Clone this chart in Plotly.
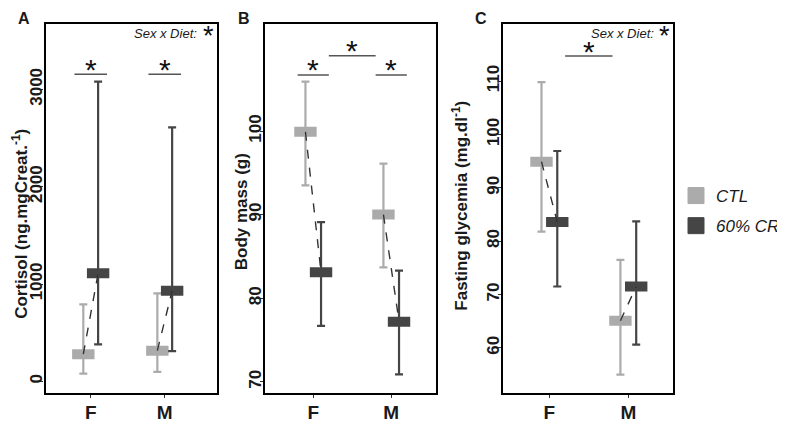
import plotly.graph_objects as go

# ---------------- data ----------------
sexes = ["F", "M"]
diet_labels = ["CTL", "60% CR"]

cort_ctl_mean = [279, 315]
cort_ctl_low = [78, 96]
cort_ctl_high = [791, 904]
cort_cr_mean = [1110, 931]
cort_cr_low = [380, 311]
cort_cr_high = [3079, 2610]

mass_ctl_mean = [99.9, 90.0]
mass_ctl_low = [93.5, 83.7]
mass_ctl_high = [105.9, 96.1]
mass_cr_mean = [83.1, 77.2]
mass_cr_low = [76.7, 70.9]
mass_cr_high = [89.1, 83.3]

gly_ctl_mean = [94.9, 65.1]
gly_ctl_low = [81.8, 55.0]
gly_ctl_high = [109.8, 76.5]
gly_cr_mean = [83.6, 71.5]
gly_cr_low = [71.5, 60.6]
gly_cr_high = [96.9, 83.7]

cort_ticks = [0, 1000, 2000, 3000]
mass_ticks = [70, 80, 90, 100]
gly_ticks = [60, 70, 80, 90, 100, 110]

# ---------------- geometry ----------------
# the page body has an 8px default margin, so the figure is drawn 8px in
W, H = 785, 422
OFF = 8
FW, FH = W - OFF, H - OFF


def px2x(X):
    return (X - OFF) / FW


def px2y(Y):
    return 1 - (Y - OFF) / FH


FONT = "Liberation Sans"
CTL_COL = "#ababab"
CR_COL = "#454545"
DODGE = 0.1

panels = [
    dict(ctl=(cort_ctl_mean, cort_ctl_low, cort_ctl_high),
         cr=(cort_cr_mean, cort_cr_low, cort_cr_high),
         ticks=cort_ticks, yrange=[-117, 3672], xrange=[0.39, 2.70],
         dom=[46, 219]),
    dict(ctl=(mass_ctl_mean, mass_ctl_low, mass_ctl_high),
         cr=(mass_cr_mean, mass_cr_low, mass_cr_high),
         ticks=mass_ticks, yrange=[68.7, 112.8], xrange=[0.385, 2.57],
         dom=[268.3, 440.7]),
    dict(ctl=(gly_ctl_mean, gly_ctl_low, gly_ctl_high),
         cr=(gly_cr_mean, gly_cr_low, gly_cr_high),
         ticks=gly_ticks, yrange=[51.6, 120.7], xrange=[0.415, 2.56],
         dom=[509, 680.3]),
]

ydom = [px2y(392.7), px2y(24)]

fig = go.Figure()
layout = dict(
    width=FW, height=FH, margin=dict(l=0, r=0, t=0, b=0),
    paper_bgcolor="white", plot_bgcolor="white",
    font=dict(family=FONT, color="#1a1a1a"),
)

for k, p in enumerate(panels):
    n = "" if k == 0 else str(k + 1)
    xa, ya = "x" + n, "y" + n
    base = [i + 1 for i in range(len(sexes))]
    for (mean, low, high), off, col in ((p["ctl"], -DODGE, CTL_COL), (p["cr"], DODGE, CR_COL)):
        xs = [b + off for b in base]
        fig.add_trace(go.Scatter(
            x=xs, y=mean, mode="markers", xaxis=xa, yaxis=ya, showlegend=False,
            marker=dict(symbol="line-ew", size=16, color=col,
                        line=dict(width=10, color=col)),
            error_y=dict(type="data", symmetric=False,
                         array=[h - m for h, m in zip(high, mean)],
                         arrayminus=[m - l for m, l in zip(mean, low)],
                         color=col, thickness=2.2, width=4),
            hoverinfo="skip",
        ))
    # dashed connectors CTL -> CR within sex
    for i, b in enumerate(base):
        fig.add_trace(go.Scatter(
            x=[b - DODGE, b + DODGE], y=[p["ctl"][0][i], p["cr"][0][i]],
            mode="lines", xaxis=xa, yaxis=ya, showlegend=False,
            line=dict(color="#333333", width=1.4, dash="dash"), hoverinfo="skip",
        ))
    layout["xaxis" + n] = dict(
        domain=[px2x(p["dom"][0]), px2x(p["dom"][1])], range=p["xrange"], anchor=ya,
        tickvals=base, ticktext=sexes, showgrid=False, zeroline=False,
        showline=True, mirror=True, linecolor="black", linewidth=2.4,
        ticks="outside", ticklen=3, tickwidth=1.2, tickcolor="#333",
        ticklabelstandoff=-2,
        tickfont=dict(family=FONT, size=19, weight="bold", color="#1a1a1a"),
    )
    layout["yaxis" + n] = dict(
        domain=ydom, range=p["yrange"], anchor=xa,
        tickvals=p["ticks"], tickangle=-90, showgrid=False, zeroline=False,
        showline=True, mirror=True, linecolor="black", linewidth=2.4,
        ticks="outside", ticklen=3, tickwidth=1.2, tickcolor="#333",
        ticklabelstandoff=-8,
        tickfont=dict(family=FONT, size=17, weight="bold", color="#1a1a1a"),
    )

# legend-only traces
for lab, col in zip(diet_labels, (CTL_COL, CR_COL)):
    fig.add_trace(go.Scatter(
        x=[None], y=[None], mode="markers", name=lab, legendgroup=lab,
        marker=dict(symbol="square", size=16, color=col,
                    line=dict(width=1, color=col)),
    ))

layout["legend"] = dict(
    x=px2x(684), y=px2y(178), xanchor="left", yanchor="top",
    font=dict(family=FONT, size=17, style="italic", color="#1a1a1a"),
    bgcolor="rgba(0,0,0,0)", tracegroupgap=5, traceorder="grouped",
    itemsizing="trace",
)

# significance brackets
bracket_col = "#555555"
shapes = []
annots = []


def bracket(xref, yref, x0, x1, y):
    shapes.append(dict(type="line", xref=xref, yref=yref, x0=x0, x1=x1, y0=y, y1=y,
                       line=dict(color=bracket_col, width=1.5)))
    annots.append(dict(xref=xref, yref=yref, x=(x0 + x1) / 2, y=y, text="*",
                       showarrow=False, yanchor="middle", yshift=5,
                       font=dict(family=FONT, size=30, color="#111")))


bracket("x", "y", 0.78, 1.22, 3155)
bracket("x", "y", 1.78, 2.22, 3155)
bracket("x2", "y2", 0.8, 1.2, 106.7)
bracket("x2", "y2", 1.8, 2.2, 106.7)
bracket("x2", "y2", 1.2, 1.8, 109.0)
bracket("x3", "y3", 1.2, 1.8, 114.7)

# Sex x Diet labels
for xt, xs in ((201, 203), (664, 665)):
    annots.append(dict(xref="paper", yref="paper", x=px2x(xt), y=px2y(33),
                       text="<i>Sex x Diet:</i>", showarrow=False,
                       xanchor="right", yanchor="middle",
                       font=dict(family=FONT, size=13, color="#1a1a1a")))
    annots.append(dict(xref="paper", yref="paper", x=px2x(xs), y=px2y(33),
                       text="*", showarrow=False, xanchor="left", yanchor="middle",
                       yshift=-3, font=dict(family=FONT, size=27, color="#111")))

# panel letters
for letter, px in (("A", 24), ("B", 247), ("C", 487)):
    annots.append(dict(xref="paper", yref="paper", x=px2x(px), y=px2y(8),
                       text=letter, showarrow=False, xanchor="center", yanchor="top",
                       font=dict(family=FONT, size=16, weight="bold", color="#1a1a1a")))

# axis titles
for txt, px, py in (("Cortisol (ng.mgCreat.<sup>-1</sup>)", 20, 224),
                    ("Body mass (g)", 244, 212),
                    ("Fasting glycemia (mg.dl<sup>-1</sup>)", 465, 206)):
    annots.append(dict(xref="paper", yref="paper", x=px2x(px), y=px2y(py),
                       text=txt, showarrow=False, textangle=-90,
                       xanchor="center", yanchor="middle",
                       font=dict(family=FONT, size=17, weight="bold", color="#1a1a1a")))

layout["shapes"] = shapes
layout["annotations"] = annots
fig.update_layout(**layout)
fig.write_html("out.html")
